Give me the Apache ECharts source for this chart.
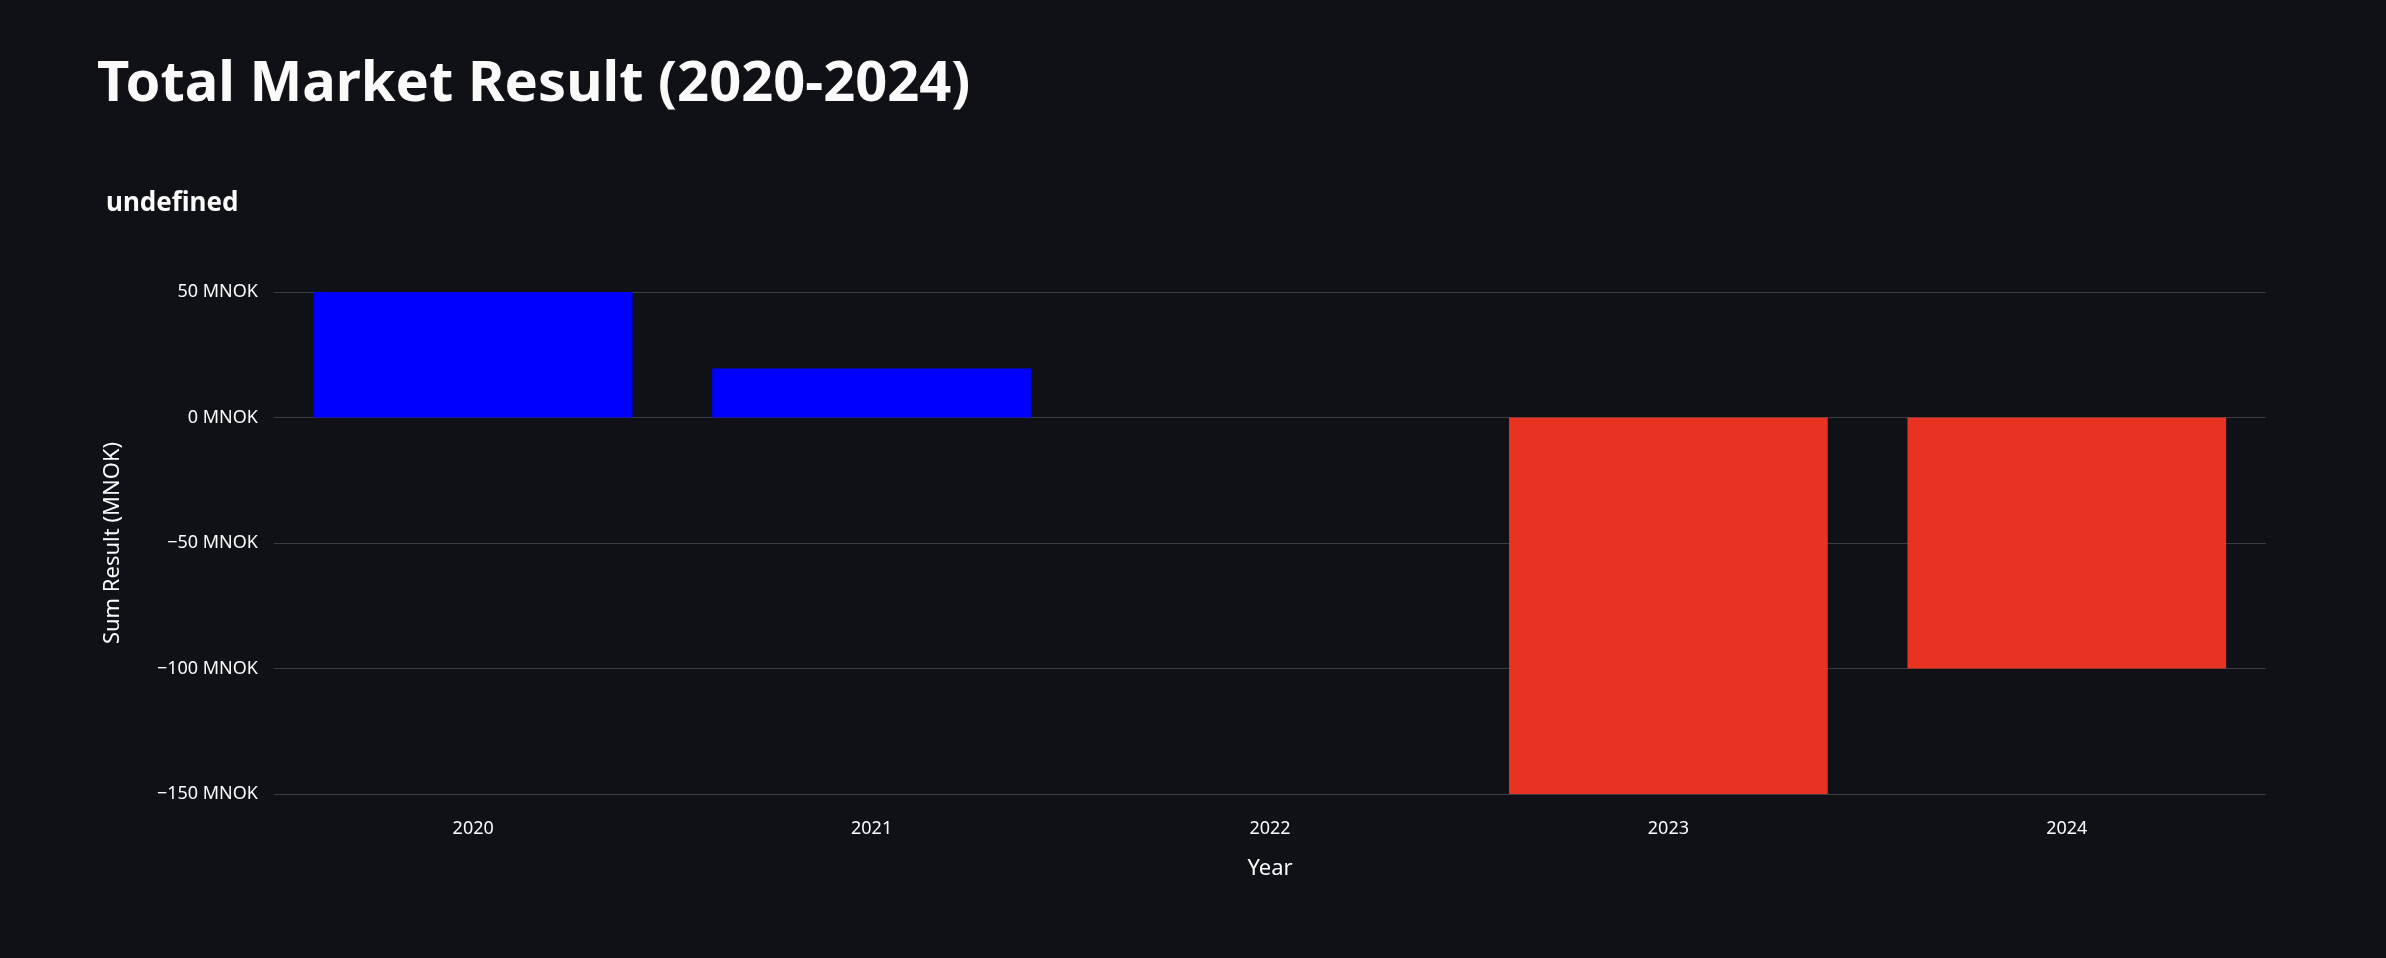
<!DOCTYPE html>
<html>
<head>
<meta charset="UTF-8">
<script src="https://cdn.jsdelivr.net/npm/echarts@6/dist/echarts.min.js"></script>
<style>
  html, body { margin: 0; padding: 0; background: #0f1117; }
  #chart { width: 2386px; height: 958px; }
</style>
</head>
<body>
<div id="chart"></div>
<script>
var years = ['2020', '2021', '2022', '2023', '2024'];
var results = [50, 19.5, 0, -150, -100];
var yTicks = [-150, -100, -50, 0, 50];

var chart = echarts.init(document.getElementById('chart'));
var font = '"Noto Sans", "Open Sans", sans-serif';
chart.setOption({
  backgroundColor: '#0f1117',
  animation: false,
  textStyle: { fontFamily: font },
  title: [
    { text: 'Total Market Result (2020-2024)', left: 92, top: 52,
      textStyle: { color: '#fafafa', fontSize: 56, fontWeight: 'bold', fontFamily: font } },
    { text: 'undefined', left: 101, top: 186,
      textStyle: { color: '#fafafa', fontSize: 26, fontWeight: 'bold', fontFamily: font } }
  ],
  grid: { left: 274, right: 120, top: 292, bottom: 164 },
  xAxis: {
    type: 'category', data: years,
    name: 'Year', nameLocation: 'middle', nameGap: 64,
    nameTextStyle: { color: '#fafafa', fontSize: 22 },
    axisLine: { show: false }, axisTick: { show: false },
    axisLabel: { color: '#fafafa', fontSize: 18, margin: 26 }
  },
  yAxis: {
    type: 'value', min: yTicks[0], max: yTicks[yTicks.length - 1], interval: 50,
    name: 'Sum Result (MNOK)', nameLocation: 'middle', nameGap: 150,
    nameTextStyle: { color: '#fafafa', fontSize: 22 },
    axisLabel: { color: '#fafafa', fontSize: 18, margin: 16,
      formatter: function (v) { return (v < 0 ? '\u2212' + (-v) : v) + ' MNOK'; } },
    splitLine: { lineStyle: { color: '#3a3d45', width: 1 } }
  },
  series: [{
    type: 'bar', barWidth: '80%',
    data: results.map(function (v) {
      return { value: v, itemStyle: { color: v >= 0 ? '#0000ff' : '#e83323' } };
    })
  }]
});
</script>
</body>
</html>
